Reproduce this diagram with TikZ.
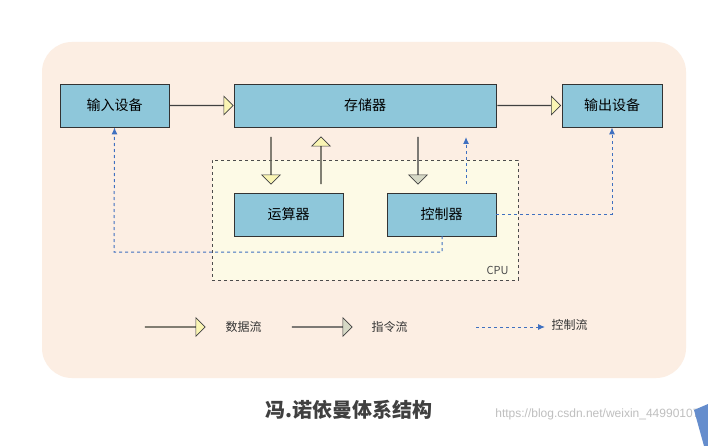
\documentclass[tikz,border=0pt]{standalone}
\usepackage{fontspec}
\setmainfont{Noto Sans CJK SC}
\newfontfamily\wmfont{Liberation Sans}
\usetikzlibrary{shapes.arrows,arrows.meta}
\definecolor{bgc}{HTML}{FCEEE3}
\definecolor{boxc}{HTML}{8EC7DA}
\definecolor{cpuc}{HTML}{FDFAE6}
\definecolor{dataf}{HTML}{FAF5B4}
\definecolor{instf}{HTML}{D6D9C6}
\definecolor{ctrl}{HTML}{3F70C0}
\begin{document}
\begin{tikzpicture}[x=1pt,y=-1pt,
  box/.style={draw=black!80,fill=boxc,line width=0.8pt,inner sep=0pt,font=\fontsize{14}{14}\selectfont},
  fat/.style={single arrow,draw=black!75,line width=0.6pt,inner sep=0pt,single arrow head extend=9pt,minimum width=11pt},
  dataa/.style={fat,fill=dataf},
  insta/.style={fat,fill=instf},
  ctl/.style={draw=ctrl,dashed,line width=1pt,-{Latex[length=7pt,width=6pt]}},
  lab/.style={font=\fontsize{12}{12}\selectfont,text=black!80}]
\useasboundingbox (0,0) rectangle (708,446);
\fill[white] (0,0) rectangle (708,446);
\fill[bgc,rounded corners=30pt] (42,42) rectangle (686,378);
\node[draw=black!70,dashed,fill=cpuc,minimum width=306pt,minimum height=120pt,line width=0.7pt] (cpu) at (365,220) {};
\node[anchor=south east,font=\fontsize{11}{11}\selectfont\rmfamily,text=black!70] at (512,278) {CPU};
\node[box,minimum width=109pt,minimum height=43pt] (in) at (114.5,105.5) {输入设备};
\node[box,minimum width=262pt,minimum height=43pt] (mem) at (365,105.5) {存储器};
\node[box,minimum width=100pt,minimum height=43pt] (out) at (612,105.5) {输出设备};
\node[box,minimum width=109pt,minimum height=43pt] (alu) at (288.5,214.5) {运算器};
\node[box,minimum width=109pt,minimum height=43pt] (cu) at (441.5,214.5) {控制器};
% fat arrows
\node[dataa,minimum height=63pt] (a1) at (201.5,105.5) {};
\node[dataa,minimum height=63pt] (a2) at (529,105.5) {};
\node[dataa,minimum height=47pt,shape border rotate=270] (a3) at (271,160.5) {};
\node[dataa,minimum height=47pt,shape border rotate=90] (a4) at (321,160.5) {};
\node[insta,minimum height=47pt,shape border rotate=270] (a5) at (418,160.5) {};
% control lines
\coordinate (c1) at (466,184);
\coordinate (c2) at (442,236);
\draw[ctl] (c1) -- (466,137);
\draw[ctl] (c2) |- (114,252) -- (in.south);
\draw[ctl] (cu.east) -| (out.south);
% legend
\node[dataa,minimum height=60pt] (l1) at (175,327) {};
\node[lab,anchor=west] (t1) at (222,327) {数据流};
\node[insta,minimum height=60pt] (l2) at (322,327) {};
\node[lab,anchor=west] (t2) at (368,327) {指令流};
\coordinate (l3) at (476,327);
\draw[ctl] (l3) -- (545,327);
\node[lab,anchor=west] (t3) at (548,325) {控制流};
% title
\node[font=\fontsize{20}{20}\selectfont\bfseries,text=black!75] (title) at (349,410) {冯.诺依曼体系结构};
\node[font=\fontsize{12}{12}\selectfont\wmfont,text=black!25,anchor=east] (wm) at (703,414) {https://blog.csdn.net/weixin\_44990107};
\fill[ctrl!80] (694,410) -- (708,404) -- (708,446) -- (704,446) -- cycle;
\end{tikzpicture}
\end{document}
